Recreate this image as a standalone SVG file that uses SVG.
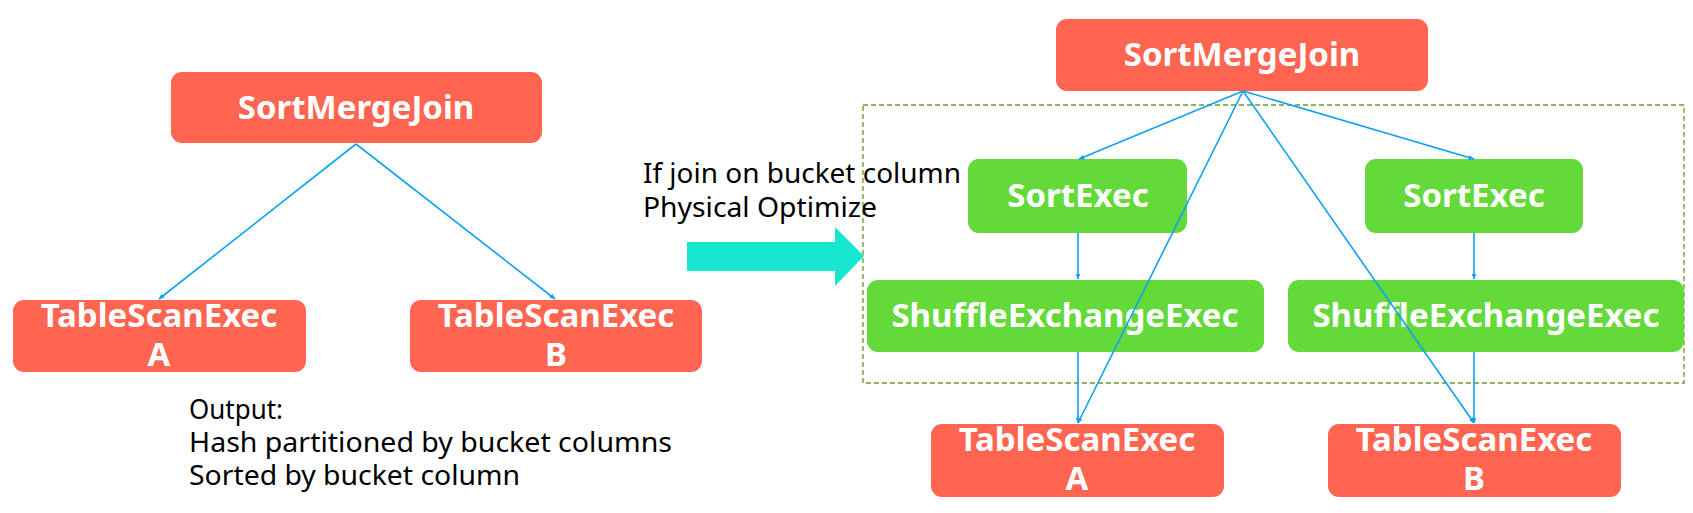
<svg xmlns="http://www.w3.org/2000/svg" width="1693" height="513" viewBox="0 0 1693 513">
<style>
.red{fill:#FF6550}
.green{fill:#63D93A}
.lbl{font-family:"Noto Sans","Open Sans",sans-serif;font-weight:bold;font-size:33px;fill:#FFFFFF;text-anchor:middle}
.txt{font-family:"Noto Sans","Open Sans",sans-serif;font-size:28px;fill:#000000}
.conn{stroke:#0EA0F2;stroke-width:1.6;fill:none;marker-end:url(#ah)}
</style>
<defs>
<marker id="ah" viewBox="0 0 10 10" refX="9" refY="5" markerWidth="6" markerHeight="6" orient="auto" markerUnits="userSpaceOnUse">
<path d="M0,1 L10,5 L0,9 z" fill="#0EA0F2"/>
</marker>
</defs>
<rect width="1693" height="513" fill="#FFFFFF"/>

<!-- dashed container -->
<rect id="optimizeRegion" x="863" y="105" width="821" height="278" fill="none" stroke="#6A9A1F" stroke-width="1.3" stroke-dasharray="5,3"/>

<!-- cyan arrow -->
<g id="bigArrow">
<polygon points="687,242 835,242 835,227 864,256 835,286 835,271 687,271" fill="#17E6D0"/>
</g>

<g id="leftSMJ">
<rect class="red" x="171" y="72" width="371" height="71" rx="11"/>
<text class="lbl" x="356" y="119">SortMergeJoin</text>
</g>
<g id="leftTSA">
<rect class="red" x="13" y="300" width="293" height="72" rx="11"/>
<text class="lbl" x="159" y="327">TableScanExec</text>
<text class="lbl" x="159" y="366">A</text>
</g>
<g id="leftTSB">
<rect class="red" x="410" y="300" width="292" height="72" rx="11"/>
<text class="lbl" x="556" y="327">TableScanExec</text>
<text class="lbl" x="556" y="366">B</text>
</g>

<g id="rightSMJ">
<rect class="red" x="1056" y="19" width="372" height="72" rx="11"/>
<text class="lbl" x="1242" y="66">SortMergeJoin</text>
</g>
<g id="sortA">
<rect class="green" x="968" y="159" width="219" height="74" rx="11"/>
<text class="lbl" x="1078" y="207">SortExec</text>
</g>
<g id="sortB">
<rect class="green" x="1365" y="159" width="218" height="74" rx="11"/>
<text class="lbl" x="1474" y="207">SortExec</text>
</g>
<g id="shuffleA">
<rect class="green" x="867" y="280" width="397" height="72" rx="11"/>
<text class="lbl" x="1065" y="327">ShuffleExchangeExec</text>
</g>
<g id="shuffleB">
<rect class="green" x="1288" y="280" width="396" height="72" rx="11"/>
<text class="lbl" x="1486" y="327">ShuffleExchangeExec</text>
</g>
<g id="rightTSA">
<rect class="red" x="931" y="424" width="293" height="73" rx="11"/>
<text class="lbl" x="1077" y="451">TableScanExec</text>
<text class="lbl" x="1077" y="490">A</text>
</g>
<g id="rightTSB">
<rect class="red" x="1328" y="424" width="293" height="73" rx="11"/>
<text class="lbl" x="1474" y="451">TableScanExec</text>
<text class="lbl" x="1474" y="490">B</text>
</g>

<g id="connectors">
<line class="conn" x1="356" y1="144" x2="159" y2="299"/>
<line class="conn" x1="356" y1="144" x2="555" y2="299"/>
<line class="conn" x1="1243" y1="91" x2="1079" y2="159"/>
<line class="conn" x1="1243" y1="91" x2="1474" y2="159"/>
<line class="conn" x1="1243" y1="91" x2="1078" y2="423"/>
<line class="conn" x1="1243" y1="91" x2="1474" y2="423"/>
<line class="conn" x1="1078" y1="233" x2="1078" y2="279"/>
<line class="conn" x1="1474" y1="233" x2="1474" y2="279"/>
<line class="conn" x1="1078" y1="352" x2="1078" y2="423"/>
<line class="conn" x1="1474" y1="352" x2="1474" y2="423"/>
</g>

<g id="labels">
<text class="txt" x="643" y="183" textLength="318" lengthAdjust="spacingAndGlyphs">If join on bucket column</text>
<text class="txt" x="643" y="217" textLength="234" lengthAdjust="spacingAndGlyphs">Physical Optimize</text>
<text class="txt" x="189" y="419" textLength="94" lengthAdjust="spacingAndGlyphs">Output:</text>
<text class="txt" x="189" y="452" textLength="483" lengthAdjust="spacingAndGlyphs">Hash partitioned by bucket columns</text>
<text class="txt" x="189" y="485" textLength="331" lengthAdjust="spacingAndGlyphs">Sorted by bucket column</text>
</g>
</svg>
